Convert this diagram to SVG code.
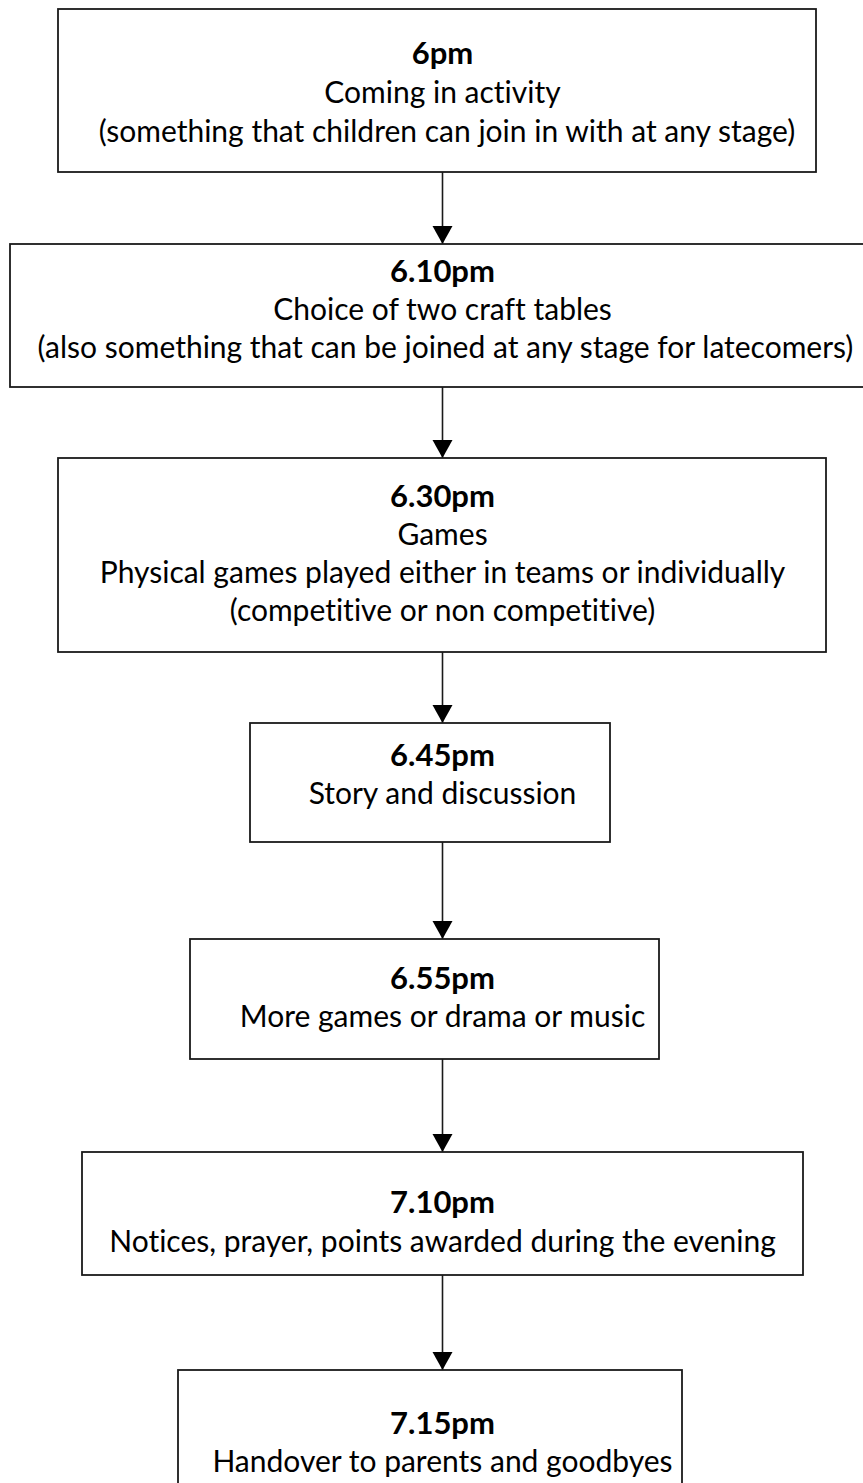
<svg xmlns="http://www.w3.org/2000/svg" width="863" height="1483" viewBox="0 0 863 1483">
  <style>
    .box { fill: #ffffff; stroke: #1a1a1a; stroke-width: 1.8; }
    .t { font-family: Lato, "Open Sans", "Liberation Sans", sans-serif; font-size: 30px; fill: #000; text-anchor: middle; font-variant-ligatures: none; }
    .b { font-weight: bold; font-size: 31px; }
    .conn { stroke: #1a1a1a; stroke-width: 1.6; fill: none; marker-end: url(#arrow); }
  </style>
  <defs>
    <marker id="arrow" markerUnits="userSpaceOnUse" markerWidth="18" markerHeight="21" refX="18" refY="10" orient="auto">
      <path d="M0,0 L18,10 L0,20 Z" fill="#000"/>
    </marker>
  </defs>
  <rect width="863" height="1483" fill="#ffffff"/>

  <g id="connectors">
    <line class="conn" x1="442.5" y1="172" x2="442.5" y2="244"/>
    <line class="conn" x1="442.5" y1="387" x2="442.5" y2="458"/>
    <line class="conn" x1="442.5" y1="652" x2="442.5" y2="723"/>
    <line class="conn" x1="442.5" y1="842" x2="442.5" y2="939"/>
    <line class="conn" x1="442.5" y1="1059" x2="442.5" y2="1152"/>
    <line class="conn" x1="442.5" y1="1275" x2="442.5" y2="1370"/>
  </g>

  <g id="step-6pm">
    <rect class="box" x="58" y="9" width="758" height="163"/>
    <text class="t b" x="442.5" y="64">6pm</text>
    <text class="t" x="442.5" y="103">Coming in activity</text>
    <text class="t" x="447" y="142">(something that children can join in with at any stage)</text>
  </g>

  <g id="step-610pm">
    <rect class="box" x="10" y="244" width="880" height="143"/>
    <text class="t b" x="442.5" y="282">6.10pm</text>
    <text class="t" x="442.5" y="320">Choice of two craft tables</text>
    <text class="t" x="445.5" y="358">(also something that can be joined at any stage for latecomers)</text>
  </g>

  <g id="step-630pm">
    <rect class="box" x="58" y="458" width="768" height="194"/>
    <text class="t b" x="442.5" y="507">6.30pm</text>
    <text class="t" x="442.5" y="545">Games</text>
    <text class="t" x="442.5" y="583">Physical games played either in teams or individually</text>
    <text class="t" x="442.5" y="621">(competitive or non competitive)</text>
  </g>

  <g id="step-645pm">
    <rect class="box" x="250" y="723" width="360" height="119"/>
    <text class="t b" x="442.5" y="766">6.45pm</text>
    <text class="t" x="442.5" y="804">Story and discussion</text>
  </g>

  <g id="step-655pm">
    <rect class="box" x="190" y="939" width="469" height="120"/>
    <text class="t b" x="442.5" y="989">6.55pm</text>
    <text class="t" x="442.5" y="1027">More games or drama or music</text>
  </g>

  <g id="step-710pm">
    <rect class="box" x="82" y="1152" width="721" height="123"/>
    <text class="t b" x="442.5" y="1213">7.10pm</text>
    <text class="t" x="442.5" y="1252">Notices, prayer, points awarded during the evening</text>
  </g>

  <g id="step-715pm">
    <rect class="box" x="178" y="1370" width="504" height="140"/>
    <text class="t b" x="442.5" y="1434">7.15pm</text>
    <text class="t" x="442.5" y="1472">Handover to parents and goodbyes</text>
  </g>
</svg>
